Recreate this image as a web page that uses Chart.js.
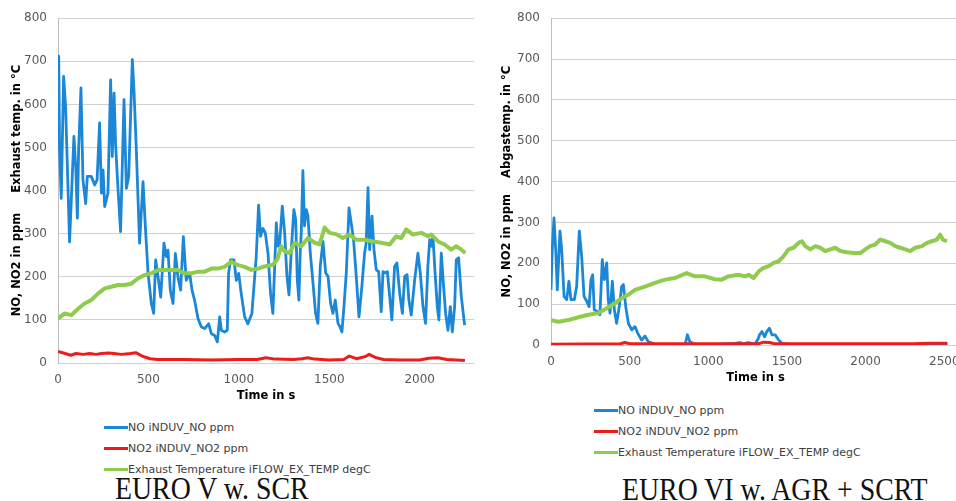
<!DOCTYPE html>
<html>
<head>
<meta charset="utf-8">
<script src="https://cdn.jsdelivr.net/npm/chart.js@4.4.1/dist/chart.umd.min.js"></script>
<style>
  html, body { margin: 0; padding: 0; background: #fff; overflow: hidden; width: 956px; height: 501px; }
  canvas { position: absolute; top: 0; }
  #euro5 { left: 0; }
  #euro6 { left: 490px; }
  .legend { position: absolute; font: 11px "DejaVu Sans", sans-serif; color: #404040; }
  .legend .row { height: 21px; display: flex; align-items: center; white-space: nowrap; }
  .legend .swatch { display: inline-block; width: 24px; height: 3px; }
  #legend5 { left: 104px; top: 417px; }
  #legend6 { left: 594px; top: 400px; }
  .caption {
    position: absolute; font: 32px "Liberation Serif", serif; line-height: 32px; color: #111;
    white-space: nowrap; transform: scaleX(0.87); transform-origin: left top;
  }
  #caption5 { left: 115px; top: 472px; }
  #caption6 { left: 622px; top: 473px; }
</style>
</head>
<body>
<canvas id="euro5" width="480" height="410"></canvas>
<canvas id="euro6" width="470" height="392"></canvas>
<div class="legend" id="legend5"></div>
<div class="legend" id="legend6"></div>
<div class="caption" id="caption5">EURO V w. SCR</div>
<div class="caption" id="caption6">EURO VI w. AGR + SCRT</div>

<script>
"use strict";

// ── Data: EURO V w. SCR ────────────────────────────────────────────── //
const euro5NoTime = [0, 4, 9, 18, 31, 42, 64, 88, 98, 107, 114, 127, 138, 153, 162, 184, 203, 216, 230, 240,
  249, 258, 276, 291, 300, 310, 319, 332, 346, 365, 378, 391, 411, 420, 433, 451, 470, 483, 498, 516,
  529, 540, 553, 568, 586, 599, 608, 621, 636, 649, 663, 678, 693, 709, 728, 741, 755, 774, 792, 811,
  833, 848, 866, 881, 894, 903, 921, 936, 943, 954, 973, 986, 999, 1013, 1032, 1050, 1072, 1096, 1109, 1120,
  1133, 1146, 1161, 1175, 1188, 1207, 1216, 1225, 1240, 1253, 1266, 1277, 1290, 1304, 1314, 1323, 1332, 1339, 1345, 1354,
  1363, 1373, 1382, 1395, 1410, 1424, 1437, 1450, 1465, 1480, 1493, 1507, 1520, 1533, 1548, 1559, 1570, 1581, 1594, 1609,
  1621, 1634, 1649, 1664, 1680, 1695, 1704, 1714, 1723, 1736, 1747, 1760, 1773, 1787, 1797, 1810, 1821, 1834, 1846, 1861,
  1874, 1889, 1904, 1917, 1930, 1940, 1953, 1972, 1990, 2003, 2018, 2032, 2045, 2055, 2064, 2073, 2086, 2097, 2106, 2119,
  2132, 2143, 2156, 2169, 2180, 2193, 2202, 2215, 2230, 2248];
const euro5NoPpm = [500, 712, 487, 382, 665, 595, 281, 526, 456, 336, 495, 638, 425, 370, 433, 433, 413, 425, 557, 394,
  448, 363, 394, 657, 479, 626, 502, 402, 305, 611, 405, 433, 704, 634, 495, 278, 421, 316, 208, 138,
  115, 239, 200, 153, 278, 247, 262, 169, 138, 254, 200, 169, 293, 192, 208, 169, 146, 103, 84, 80,
  91, 68, 64, 49, 107, 76, 72, 76, 208, 239, 239, 192, 208, 161, 107, 91, 115, 247, 366, 294,
  312, 302, 255, 162, 115, 325, 271, 275, 364, 302, 201, 158, 263, 356, 333, 193, 146, 255, 302, 446,
  318, 356, 341, 255, 185, 115, 92, 224, 282, 209, 201, 139, 115, 146, 92, 84, 72, 131, 209, 360,
  325, 286, 201, 107, 177, 255, 279, 407, 263, 341, 263, 216, 212, 119, 212, 209, 212, 154, 100, 224,
  232, 162, 115, 201, 205, 146, 111, 193, 255, 209, 131, 92, 224, 286, 271, 294, 201, 131, 100, 255,
  177, 115, 76, 131, 72, 131, 240, 244, 154, 88];

const euro5No2Time = [0, 40, 70, 100, 140, 175, 210, 240, 280, 310, 350, 400, 430, 470, 510, 550, 700, 850, 1000, 1100,
  1150, 1200, 1300, 1350, 1380, 1420, 1500, 1580, 1610, 1650, 1700, 1720, 1760, 1800, 1900, 2000, 2050, 2100, 2150, 2250];
const euro5No2Ppm = [27, 22, 18, 22, 20, 22, 20, 22, 23, 22, 20, 22, 24, 15, 10, 8, 8, 7, 8, 8,
  12, 9, 8, 10, 12, 9, 7, 8, 16, 10, 15, 20, 12, 8, 7, 7, 11, 12, 8, 6];

const euro5TempTime = [0, 37, 74, 111, 147, 184, 221, 258, 295, 332, 369, 405, 442, 479, 516, 553, 590, 627, 663, 700,
  737, 774, 811, 848, 884, 921, 958, 995, 1032, 1069, 1106, 1142, 1188, 1212, 1234, 1253, 1280, 1308, 1345, 1382,
  1419, 1446, 1474, 1502, 1538, 1575, 1612, 1649, 1695, 1741, 1787, 1834, 1870, 1898, 1925, 1962, 2008, 2045, 2064, 2101,
  2138, 2174, 2202, 2230, 2252];
const euro5TempC = [103, 115, 111, 126, 138, 146, 161, 173, 177, 181, 181, 184, 196, 204, 208, 216, 216, 216, 216, 208,
  208, 212, 212, 219, 219, 223, 235, 227, 223, 216, 219, 224, 228, 240, 271, 259, 255, 279, 271, 290,
  279, 275, 314, 302, 299, 290, 298, 286, 286, 282, 279, 275, 294, 290, 310, 298, 302, 294, 298, 282,
  275, 263, 271, 263, 255];

// ── Data: EURO VI w. AGR + SCRT ────────────────────────────────────── //
const euro6NoTime = [0, 8, 19, 30, 40, 57, 68, 83, 100, 114, 127, 148, 163, 180, 195, 210, 227, 242, 254, 265,
  275, 294, 311, 326, 339, 354, 364, 375, 390, 403, 417, 434, 449, 460, 475, 492, 513, 534, 551, 576,
  597, 619, 661, 703, 852, 867, 883, 915, 979, 1169, 1201, 1222, 1254, 1297, 1318, 1326, 1341, 1358, 1372, 1389,
  1404, 1425, 1447, 1468, 1500, 1521, 2520];
const euro6NoPpm = [135, 234, 311, 234, 135, 279, 234, 119, 111, 156, 111, 111, 143, 279, 217, 119, 107, 94, 160, 172,
  86, 82, 74, 209, 160, 201, 111, 78, 156, 86, 53, 94, 143, 148, 94, 53, 37, 45, 29, 12,
  22, 8, 2, 0, 0, 25, 8, 2, 0, 4, 6, 2, 6, 2, 16, 25, 33, 20, 33, 41,
  25, 25, 12, 4, 2, 0, 0];

const euro6No2Time = [0, 440, 470, 500, 1320, 1350, 1390, 1420, 2300, 2400, 2520];
const euro6No2Ppm = [2, 3, 6, 3, 3, 7, 6, 3, 3, 4, 4];

const euro6TempTime = [0, 47, 110, 174, 237, 301, 354, 407, 449, 492, 534, 597, 661, 725, 788, 862, 915, 979, 1042, 1085,
  1127, 1191, 1235, 1256, 1288, 1320, 1351, 1383, 1415, 1447, 1478, 1510, 1542, 1574, 1595, 1616, 1648, 1680, 1712, 1743,
  1775, 1807, 1839, 1881, 1923, 1966, 1998, 2029, 2061, 2093, 2125, 2157, 2188, 2220, 2252, 2284, 2315, 2358, 2390, 2421,
  2453, 2474, 2491, 2517];
const euro6TempC = [61, 57, 61, 68, 74, 78, 90, 102, 115, 123, 135, 143, 152, 160, 164, 176, 168, 168, 161, 160,
  168, 172, 168, 172, 164, 180, 189, 193, 201, 205, 217, 234, 238, 250, 254, 242, 234, 242, 238, 230,
  234, 238, 230, 227, 225, 225, 234, 242, 246, 258, 254, 250, 242, 238, 234, 230, 238, 242, 250, 254,
  258, 270, 258, 254];

const yTicks  = [0, 100, 200, 300, 400, 500, 600, 700, 800];
const xTicks5 = [0, 500, 1000, 1500, 2000];
const xTicks6 = [0, 500, 1000, 1500, 2000, 2500];
const seriesLabels = ["NO iNDUV_NO ppm", "NO2 iNDUV_NO2 ppm", "Exhaust Temperature iFLOW_EX_TEMP degC"];
const seriesColors = ["#1b87d6", "#ee1c1c", "#8fcb4c"];

// ── Helpers ────────────────────────────────────────────────────────── //
const toPoints = (xs, ys) => xs.map((x, i) => ({ x, y: ys[i] }));
const fixedTicks = list => s => { s.ticks = list.map(v => ({ value: v })); };

Chart.defaults.font.family = '"DejaVu Sans", Verdana, sans-serif';

function makeDatasets(no, no2, temp) {
  const widths = [2.8, 3, 4];
  const order  = [3, 2, 1]; // temperature on top, NO below
  return [no, no2, temp].map((pts, i) => ({
    label: seriesLabels[i],
    data: pts,
    borderColor: seriesColors[i],
    backgroundColor: seriesColors[i],
    borderWidth: widths[i],
    pointRadius: 0,
    tension: 0,
    borderJoinStyle: "round",
    order: order[i],
  }));
}

function makeChart(id, datasets, opts) {
  const ctx = document.getElementById(id).getContext("2d");
  return new Chart(ctx, {
    type: "line",
    data: { datasets },
    options: {
      responsive: false,
      animation: false,
      devicePixelRatio: 1,
      layout: { padding: { top: 18, right: opts.padRight, bottom: 0, left: 0 } },
      plugins: { legend: { display: false }, tooltip: { enabled: false } },
      scales: {
        x: {
          type: "linear",
          min: 0,
          max: opts.xMax,
          afterBuildTicks: fixedTicks(opts.xTicks),
          grid: { display: false, drawTicks: false },
          border: { display: false },
          ticks: {
            autoSkip: false, padding: 10, color: "#595959", font: { size: 12 }, maxRotation: 0,
            callback: v => String(v),
          },
          title: { display: true, text: "Time in s", color: "#000", font: { size: 11.5, weight: "bold" }, padding: { top: 0, bottom: 7 } },
          afterFit: s => { s.height = 47; s.paddingLeft = 0; s.paddingRight = 0; },
        },
        y: {
          min: 0,
          max: 800,
          afterBuildTicks: fixedTicks(yTicks),
          grid: { color: "#d2d2d2", lineWidth: 1, drawTicks: false },
          border: { display: true, color: "#bdbdbd", width: 1 },
          ticks: { padding: 11, color: "#595959", font: { size: 12 }, callback: v => String(v) },
          title: { display: true, text: opts.yTitle, color: "#000", font: { size: 11.5, weight: "bold" }, padding: { top: 10, bottom: 0 } },
          afterFit: s => { s.width = opts.yWidth; },
        },
      },
    },
  });
}

function renderLegend(el, chart) {
  el.innerHTML = chart.data.datasets.map(d =>
    `<div class="row"><span class="swatch" style="background:${d.borderColor}"></span>${d.label}</div>`
  ).join("");
}

// ── Init ───────────────────────────────────────────────────────────── //
const euro5 = makeChart("euro5",
  makeDatasets(toPoints(euro5NoTime, euro5NoPpm), toPoints(euro5No2Time, euro5No2Ppm), toPoints(euro5TempTime, euro5TempC)),
  { xMax: 2300, xTicks: xTicks5, padRight: 6, yWidth: 58, yTitle: "NO, NO2 in ppm     Exhaust temp. in °C" });

const euro6 = makeChart("euro6",
  makeDatasets(toPoints(euro6NoTime, euro6NoPpm), toPoints(euro6No2Time, euro6No2Ppm), toPoints(euro6TempTime, euro6TempC)),
  { xMax: 2600, xTicks: xTicks6, padRight: 0, yWidth: 61, yTitle: "NO, NO2 in ppm    Abgastemp. in °C" });

renderLegend(document.getElementById("legend5"), euro5);
renderLegend(document.getElementById("legend6"), euro6);
</script>
</body>
</html>
